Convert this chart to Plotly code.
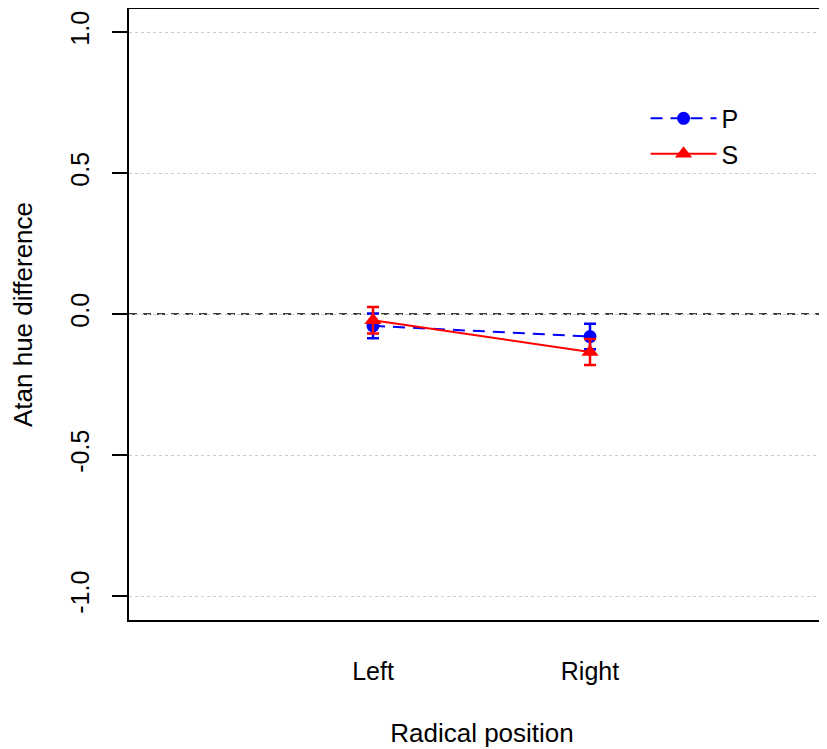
import plotly.graph_objects as go

positions = ["Left", "Right"]
x_vals = [1, 2]
p_mean = [-0.042, -0.080]
p_err = [0.044, 0.045]
s_mean = [-0.022, -0.135]
s_err = [0.047, 0.046]
y_ticks = [-1.0, -0.5, 0.0, 0.5, 1.0]
y_ticklabels = ["-1.0", "-0.5", "0.0", "0.5", "1.0"]

FONT = "Liberation Sans, Arial, sans-serif"

fig = go.Figure()

fig.add_trace(go.Scatter(
    x=x_vals, y=p_mean, name="P", mode="lines+markers",
    line=dict(color="blue", width=2, dash="12px,8px"),
    marker=dict(symbol="circle", size=13, color="blue"),
    error_y=dict(type="data", array=p_err, color="blue", thickness=2.5, width=6),
))
fig.add_trace(go.Scatter(
    x=x_vals, y=s_mean, name="S", mode="lines+markers",
    line=dict(color="red", width=2),
    marker=dict(symbol="triangle-up", size=15, color="red"),
    error_y=dict(type="data", array=s_err, color="red", thickness=2.5, width=6),
))

fig.add_hline(y=0, line=dict(color="black", width=1.5, dash="8px,6px"), layer="below")

fig.update_layout(
    width=827, height=749,
    margin=dict(l=121, r=0, t=1, b=137, autoexpand=False),
    paper_bgcolor="white", plot_bgcolor="white",
    font=dict(family=FONT, size=25, color="black"),
    showlegend=True,
    legend=dict(x=0.7317, y=0.792, xanchor="left", yanchor="middle",
                bgcolor="rgba(0,0,0,0)", font=dict(size=25),
                tracegroupgap=0, itemwidth=66),
    xaxis=dict(
        range=[1 - 244 / 217, 2 + 245 / 217],
        tickvals=x_vals, ticktext=positions,
        showgrid=False, zeroline=False, automargin=False,
        showline=True, linecolor="black", linewidth=1.5, mirror=True,
        ticks="", ticklabelstandoff=28,
        title=dict(text="Radical position", standoff=40, font=dict(size=26)),
    ),
    yaxis=dict(
        range=[-1 - 24 / 282, 1 + 23 / 282],
        tickvals=y_ticks, ticktext=y_ticklabels, tickangle=-90,
        showgrid=True, gridcolor="#cccccc", griddash="dot", gridwidth=1,
        zeroline=False, automargin=False,
        showline=True, linecolor="black", linewidth=1.5,
        ticks="outside", ticklen=15, tickwidth=1.5, tickcolor="black",
        ticklabelstandoff=13,
        title=dict(text="Atan hue difference", standoff=27, font=dict(size=26)),
    ),
)

fig.write_html("out.html")
